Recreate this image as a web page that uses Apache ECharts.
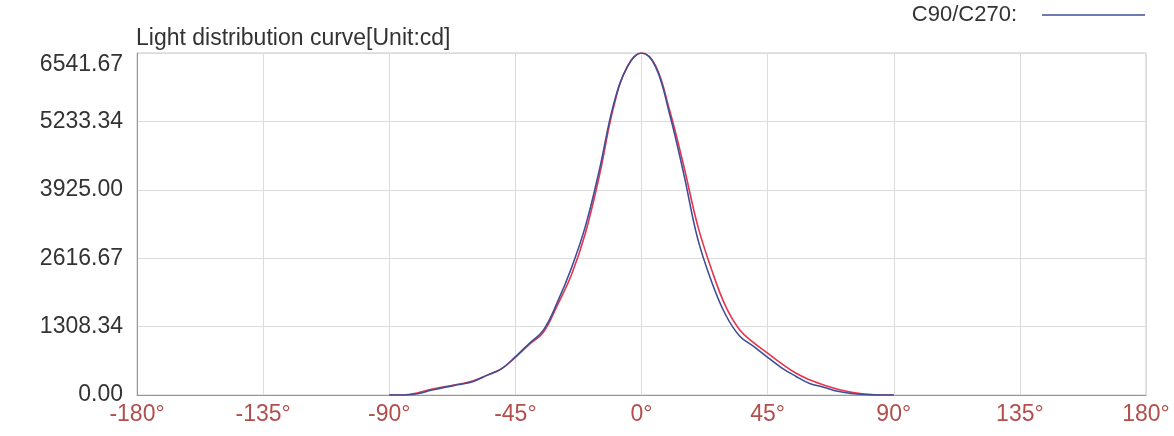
<!DOCTYPE html>
<html>
<head>
<meta charset="utf-8">
<script src="https://cdn.jsdelivr.net/npm/echarts@6/dist/echarts.min.js"></script>
<style>
html, body { margin: 0; padding: 0; background: #fff; }
#main { width: 1174px; height: 436px; }
</style>
</head>
<body>
<div id="main"></div>
<script>
// angles in degrees
var angles = [-90, -85, -80, -75, -70, -65, -60, -55, -50, -45, -40, -35, -30, -25, -20, -15, -10, -5,
    0, 5, 10, 15, 20, 25, 30, 35, 40, 45, 50, 55, 60, 65, 70, 75, 80, 85, 90];
// C0/C180 (red)
var redValues = [0, 0, 40, 110, 160, 210, 270, 380, 500, 720, 970, 1200, 1720, 2300, 3100, 4200, 5500, 6290,
    6541.67, 6300, 5450, 4400, 3250, 2400, 1700, 1250, 1000, 800, 600, 420, 290, 190, 110, 50, 15, 0, 0];
// C90/C270 (blue)
var blueValues = [0, 0, 25, 90, 150, 200, 260, 380, 500, 730, 990, 1240, 1775, 2430, 3230, 4310, 5550, 6280,
    6541.67, 6280, 5380, 4250, 3000, 2170, 1535, 1130, 930, 720, 520, 360, 220, 150, 70, 30, 10, 0, 0];
var yTickLabels = ['0.00', '1308.34', '2616.67', '3925.00', '5233.34', '6541.67'];
var xTickLabels = ['-180°', '-135°', '-90°', '-45°', '0°', '45°', '90°', '135°', '180°'];

function pairs(vals) {
    var out = [];
    for (var i = 0; i < angles.length; i++) {
        out.push([angles[i], vals[i]]);
    }
    return out;
}

var myChart = echarts.init(document.getElementById('main'));
var option = {
    backgroundColor: '#fff',
    animation: false,
    textStyle: { fontFamily: 'Liberation Sans, Arial, sans-serif' },
    title: {
        text: 'Light distribution curve[Unit:cd]',
        left: 131,
        top: 22,
        textStyle: { color: '#333', fontSize: 23, fontWeight: 'normal' }
    },
    legend: {
        data: ['C90/C270'],
        right: 24,
        top: -1,
        align: 'right',
        icon: 'path://M0 0H100V1.6H0Z',
        itemWidth: 103,
        itemHeight: 2,
        formatter: function(name) { return name + ':'; },
        textStyle: { color: '#333', fontSize: 22, padding: [0, 20, 0, 0] }
    },
    grid: {
        show: true,
        left: 137,
        right: 28,
        top: 53,
        bottom: 41,
        borderColor: '#c8c8c8',
        borderWidth: 1
    },
    xAxis: {
        type: 'value',
        min: -180,
        max: 180,
        interval: 45,
        axisLine: { show: true, onZero: false, lineStyle: { color: '#999' } },
        axisTick: { show: false },
        splitLine: { show: true, lineStyle: { color: '#dcdcdc' } },
        axisLabel: {
            color: '#b24f4d',
            fontSize: 23,
            margin: 8,
            formatter: function(v, i) { return xTickLabels[i]; }
        }
    },
    yAxis: {
        type: 'value',
        min: 0,
        max: 6541.67,
        interval: 1308.334,
        axisLine: { show: true, onZero: false, lineStyle: { color: '#999' } },
        axisTick: { show: false },
        splitLine: { show: true, lineStyle: { color: '#dcdcdc' } },
        axisLabel: {
            color: '#333',
            fontSize: 23,
            margin: 14,
            verticalAlignMaxLabel: 'top',
            formatter: function(v, i) { return yTickLabels[i]; }
        }
    },
    series: [{
        name: 'C0/C180',
        type: 'line',
        smooth: 0.4,
        symbol: 'none',
        data: pairs(redValues),
        lineStyle: { color: '#e8344e', width: 1.6 },
        itemStyle: { color: '#e8344e' }
    }, {
        name: 'C90/C270',
        type: 'line',
        smooth: 0.4,
        symbol: 'none',
        data: pairs(blueValues),
        lineStyle: { color: '#3f4f96', width: 1.6 },
        itemStyle: { color: '#3f4f96' }
    }]
};
myChart.setOption(option);
</script>
</body>
</html>
